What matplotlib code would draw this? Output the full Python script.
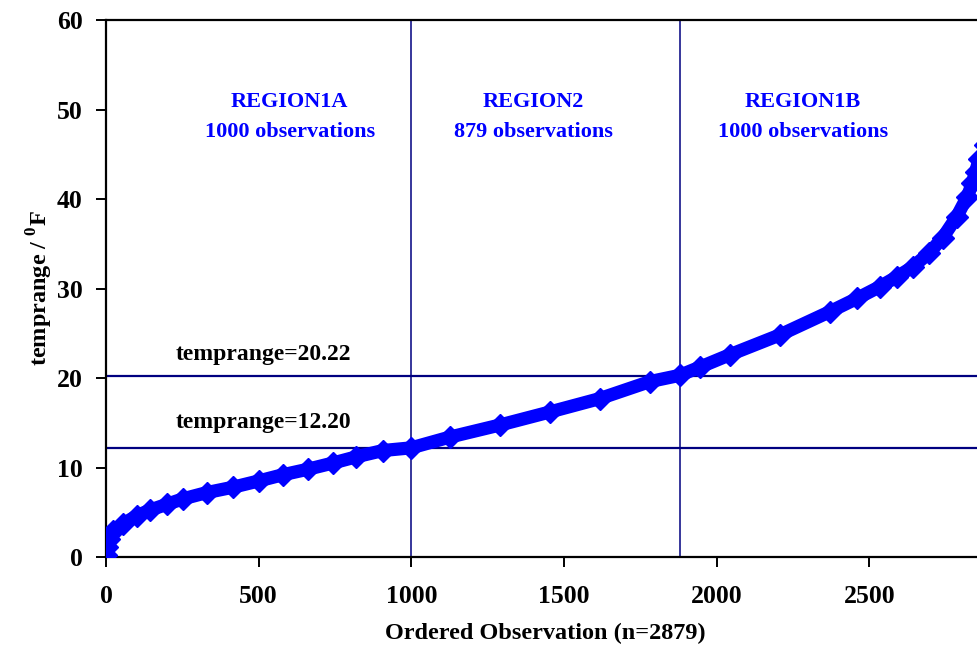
import numpy as np
import matplotlib
matplotlib.use("Agg")
import matplotlib.pyplot as plt

plt.rcParams['font.family'] = ['Liberation Serif', 'DejaVu Serif']
plt.rcParams['font.weight'] = 'bold'
plt.rcParams['mathtext.fontset'] = 'custom'
plt.rcParams['mathtext.bf'] = 'Liberation Serif:bold'
plt.rcParams['mathtext.rm'] = 'Liberation Serif:bold'

# ordered observation index vs temprange
obs = [0, 3, 10, 23, 56, 100, 144, 200, 252, 330, 416, 500, 580, 660, 743, 820, 907,
       1000, 1126, 1290, 1453, 1617, 1781, 1879, 1944, 2043, 2206, 2370, 2460, 2534,
       2590, 2642, 2697, 2741, 2786, 2820, 2838, 2848, 2860, 2879]
temprange = [0.2, 1.1, 2.0, 2.9, 3.7, 4.6, 5.25, 5.9, 6.5, 7.2, 7.8, 8.5, 9.2, 9.8,
             10.5, 11.2, 11.9, 12.2, 13.4, 14.75, 16.2, 17.7, 19.6, 20.3, 21.2,
             22.6, 24.8, 27.4, 28.9, 30.2, 31.3, 32.4, 34.0, 35.7, 38.0, 40.2,
             41.8, 43.0, 44.5, 46.0]

cut_low, cut_high = 12.20, 20.22
split_obs = [1000, 1879]
region_names = ["REGION1A", "REGION2", "REGION1B"]
region_counts = [1000, 879, 1000]
region_x = [602, 1401, 2282]

fig = plt.figure(figsize=(9.77, 6.48), dpi=100)
ax = fig.add_axes([0.1085, 0.1404, 0.8997, 0.8287])

navy = '#000080'
for v in split_obs:
    ax.axvline(v, color=navy, lw=1.1, zorder=1)
for h in [cut_low, cut_high]:
    ax.axhline(h, color=navy, lw=1.6, zorder=1)

ax.plot(obs, temprange, color='#0000FF', lw=9.5, marker='D', ms=11,
        solid_capstyle='round', solid_joinstyle='round', zorder=3)

for name, n, xc in zip(region_names, region_counts, region_x):
    ax.text(xc, 49.2, f"{name}\n{n} observations", color='#0000FF',
            fontsize=16, fontweight='bold', ha='center', va='center',
            linespacing=1.65)

ax.text(229, 22.6, f"temprange={cut_high:.2f}", fontsize=17, fontweight='bold',
        ha='left', va='center')
ax.text(229, 15.0, f"temprange={cut_low:.2f}", fontsize=17, fontweight='bold',
        ha='left', va='center')

ax.set_xlim(0, 2879)
ax.set_ylim(0, 60)
ax.set_xticks([0, 500, 1000, 1500, 2000, 2500])
ax.set_yticks(np.arange(0, 61, 10))
ax.tick_params(direction='out', length=7, width=1.4, labelsize=18.5)
ax.tick_params(axis='x', pad=13)
ax.tick_params(axis='y', pad=10)
for lab in ax.get_xticklabels() + ax.get_yticklabels():
    lab.set_fontweight('bold')
for s in ax.spines.values():
    s.set_linewidth(1.6)
ax.spines['right'].set_visible(False)

ax.set_xlabel("Ordered Observation (n=2879)", fontsize=17.5, fontweight='bold', labelpad=11)
ax.set_ylabel(r"temprange / $^{\mathbf{0}}$F", fontsize=17.5, fontweight='bold', labelpad=1)

fig.savefig("out.png", dpi=100)
